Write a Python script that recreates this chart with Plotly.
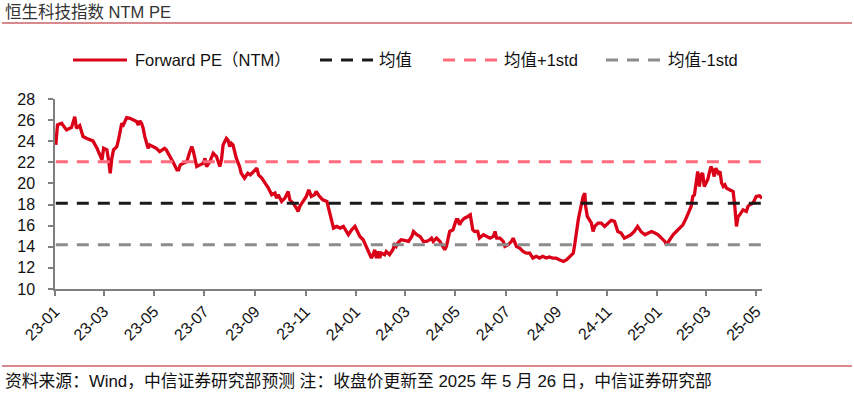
import plotly.graph_objects as go

# ---------------- data ----------------
dates = [
    "2023-01-02", "2023-01-04", "2023-01-09", "2023-01-15", "2023-01-19", "2023-01-21", "2023-01-25", "2023-01-27",
    "2023-01-31", "2023-02-02", "2023-02-04", "2023-02-08", "2023-02-12", "2023-02-16", "2023-02-21", "2023-02-25",
    "2023-02-27", "2023-03-01", "2023-03-05", "2023-03-07", "2023-03-09", "2023-03-11", "2023-03-13", "2023-03-15",
    "2023-03-17", "2023-03-19", "2023-03-21", "2023-03-23", "2023-03-25", "2023-03-27", "2023-03-29", "2023-04-02",
    "2023-04-06", "2023-04-10", "2023-04-12", "2023-04-14", "2023-04-16", "2023-04-18", "2023-04-20", "2023-04-22",
    "2023-04-24", "2023-04-26", "2023-04-30", "2023-05-04", "2023-05-08", "2023-05-12", "2023-05-14", "2023-05-16",
    "2023-05-18", "2023-05-20", "2023-05-25", "2023-05-29", "2023-05-31", "2023-06-02", "2023-06-06", "2023-06-10",
    "2023-06-13", "2023-06-16", "2023-06-18", "2023-06-20", "2023-06-22", "2023-06-26", "2023-06-30", "2023-07-02",
    "2023-07-04", "2023-07-08", "2023-07-12", "2023-07-14", "2023-07-16", "2023-07-18", "2023-07-20", "2023-07-22",
    "2023-07-24", "2023-07-28", "2023-07-30", "2023-08-01", "2023-08-03", "2023-08-05", "2023-08-07", "2023-08-09",
    "2023-08-13", "2023-08-15", "2023-08-19", "2023-08-23", "2023-08-26", "2023-08-30", "2023-09-03", "2023-09-05",
    "2023-09-09", "2023-09-13", "2023-09-17", "2023-09-21", "2023-09-25", "2023-09-27", "2023-09-29", "2023-10-01",
    "2023-10-03", "2023-10-07", "2023-10-11", "2023-10-13", "2023-10-17", "2023-10-21", "2023-10-23", "2023-10-25",
    "2023-10-29", "2023-11-02", "2023-11-05", "2023-11-08", "2023-11-12", "2023-11-14", "2023-11-18", "2023-11-22",
    "2023-11-27", "2023-12-01", "2023-12-03", "2023-12-05", "2023-12-09", "2023-12-13", "2023-12-17", "2023-12-19",
    "2023-12-23", "2023-12-27", "2023-12-31",
    "2024-01-02", "2024-01-06", "2024-01-10", "2024-01-14", "2024-01-18", "2024-01-20", "2024-01-22", "2024-01-24",
    "2024-01-26", "2024-01-28", "2024-01-30", "2024-02-01", "2024-02-05", "2024-02-07", "2024-02-11", "2024-02-15",
    "2024-02-17", "2024-02-19", "2024-02-21", "2024-02-25", "2024-02-29", "2024-03-05", "2024-03-09", "2024-03-11",
    "2024-03-15", "2024-03-19", "2024-03-23", "2024-03-27", "2024-03-31", "2024-04-02", "2024-04-04", "2024-04-08",
    "2024-04-12", "2024-04-16", "2024-04-18", "2024-04-20", "2024-04-24", "2024-04-28", "2024-05-02", "2024-05-04",
    "2024-05-06", "2024-05-08", "2024-05-12", "2024-05-16", "2024-05-19", "2024-05-22", "2024-05-24", "2024-05-28",
    "2024-05-30", "2024-06-04", "2024-06-08", "2024-06-12", "2024-06-16", "2024-06-18", "2024-06-20", "2024-06-24",
    "2024-06-28", "2024-06-30", "2024-07-04", "2024-07-06", "2024-07-08", "2024-07-10", "2024-07-12", "2024-07-14",
    "2024-07-18", "2024-07-22", "2024-07-26", "2024-07-30", "2024-08-03", "2024-08-07", "2024-08-11", "2024-08-15",
    "2024-08-19", "2024-08-23", "2024-08-27", "2024-08-31", "2024-09-04", "2024-09-09", "2024-09-13", "2024-09-17",
    "2024-09-21", "2024-09-23", "2024-09-25", "2024-09-27", "2024-09-29", "2024-10-01", "2024-10-03", "2024-10-05",
    "2024-10-06", "2024-10-08", "2024-10-11", "2024-10-13", "2024-10-15", "2024-10-17", "2024-10-21", "2024-10-25",
    "2024-10-29", "2024-11-02", "2024-11-06", "2024-11-10", "2024-11-14", "2024-11-18", "2024-11-22", "2024-11-26",
    "2024-11-30", "2024-12-04", "2024-12-08", "2024-12-12", "2024-12-17", "2024-12-21", "2024-12-25", "2024-12-29",
    "2025-01-02", "2025-01-06", "2025-01-10", "2025-01-12", "2025-01-16", "2025-01-20", "2025-01-24", "2025-01-28",
    "2025-02-01", "2025-02-05", "2025-02-09", "2025-02-11", "2025-02-13", "2025-02-15", "2025-02-17", "2025-02-19",
    "2025-02-21", "2025-02-23", "2025-02-25", "2025-02-27", "2025-03-01", "2025-03-03", "2025-03-05", "2025-03-07",
    "2025-03-09", "2025-03-11", "2025-03-13", "2025-03-16", "2025-03-18", "2025-03-20", "2025-03-22", "2025-03-24",
    "2025-03-26", "2025-03-30", "2025-04-03", "2025-04-05", "2025-04-07", "2025-04-09", "2025-04-11", "2025-04-15",
    "2025-04-19", "2025-04-21", "2025-04-23", "2025-04-27", "2025-05-01", "2025-05-05", "2025-05-08",
]

forward_pe = [
    23.65, 25.54, 25.70, 25.07, 25.23, 25.29, 26.33, 25.23,
    25.48, 24.91, 24.44, 24.28, 24.12, 24.03, 23.33, 22.70,
    22.23, 23.33, 23.18, 22.23, 20.97, 22.39, 23.18, 23.33,
    23.49, 24.12, 24.91, 25.70, 25.54, 26.01, 26.24, 26.17,
    26.01, 25.86, 25.54, 25.92, 25.70, 25.23, 24.44, 23.97,
    23.33, 23.65, 23.49, 23.33, 23.02, 23.18, 23.33, 23.18,
    22.86, 22.55, 21.91, 21.28, 21.28, 21.76, 21.91, 22.07,
    22.86, 23.49, 23.02, 22.07, 21.60, 21.76, 21.91, 22.39,
    21.60, 22.07, 22.86, 22.70, 22.55, 22.07, 21.60, 22.23,
    23.65, 24.28, 24.12, 23.49, 23.81, 23.65, 23.02, 22.39,
    21.60, 20.97, 20.50, 20.97, 20.81, 21.13, 21.45, 20.81,
    20.50, 20.03, 19.55, 18.92, 19.08, 18.61, 18.92, 18.61,
    18.29, 18.61, 19.24, 18.45, 18.13, 17.66, 17.34, 17.82,
    18.29, 18.77, 19.40, 18.77, 18.92, 19.24, 18.77, 18.45,
    18.29, 17.03, 16.08, 15.77, 15.93, 15.77, 15.93, 15.61,
    15.14, 15.61, 15.93,
    15.61, 14.98, 14.67, 14.03, 13.40, 12.93, 13.25, 13.72,
    12.93, 13.56, 12.93, 13.40, 13.25, 13.56, 13.25, 13.72,
    14.19, 14.03, 14.35, 14.67, 14.60, 14.51, 14.98, 15.45,
    15.14, 14.98, 14.51, 14.51, 14.67, 14.82, 14.51, 14.82,
    14.51, 13.88, 13.72, 14.03, 15.45, 15.61, 16.56, 16.56,
    16.08, 16.40, 16.71, 16.87, 17.03, 15.61, 15.45, 15.45,
    14.82, 15.14, 14.98, 14.82, 14.98, 15.45, 14.82, 14.82,
    14.51, 14.03, 14.19, 14.35, 14.51, 14.82, 14.35, 14.03,
    13.88, 13.56, 13.40, 13.40, 12.93, 13.09, 12.93, 13.09,
    12.93, 13.03, 12.93, 12.93, 12.77, 12.61, 12.77, 13.09,
    13.40, 14.35, 15.61, 16.56, 17.34, 18.13, 18.77, 19.08,
    17.82, 16.87, 16.56, 16.24, 15.45, 15.93, 16.24, 16.24,
    15.93, 16.24, 16.50, 16.40, 15.45, 15.30, 14.82, 14.98,
    15.14, 15.45, 15.93, 15.45, 15.14, 15.30, 15.45, 15.30,
    15.14, 14.82, 14.51, 14.19, 14.67, 15.14, 15.45, 15.77,
    16.08, 16.71, 17.50, 17.82, 18.77, 18.92, 20.03, 21.13,
    19.71, 20.81, 20.97, 19.71, 20.03, 20.34, 20.97, 21.60,
    21.29, 20.66, 21.45, 20.97, 21.13, 20.03, 19.71, 19.87,
    19.55, 19.40, 19.24, 17.82, 15.93, 16.87, 17.03, 17.50,
    17.34, 17.82, 17.98, 18.13, 18.77, 18.83, 18.60,
]

mean_pe = 18.12
upper_pe = 22.05   # 均值+1std
lower_pe = 14.20   # 均值-1std

y_tick_values = [10, 12, 14, 16, 18, 20, 22, 24, 26, 28]
x_tick_dates = ["2023-01-01", "2023-03-01", "2023-05-01", "2023-07-01", "2023-09-01", "2023-11-01",
                "2024-01-01", "2024-03-01", "2024-05-01", "2024-07-01", "2024-09-01", "2024-11-01",
                "2025-01-01", "2025-03-01", "2025-05-01"]
x_tick_labels = ["23-01", "23-03", "23-05", "23-07", "23-09", "23-11", "24-01", "24-03", "24-05",
                 "24-07", "24-09", "24-11", "25-01", "25-03", "25-05"]

series_names = ["Forward PE（NTM）", "均值", "均值+1std", "均值-1std"]
title_text = "恒生科技指数 NTM PE"
footer_text = "资料来源：Wind，中信证券研究部预测 注：收盘价更新至 2025 年 5 月 26 日，中信证券研究部"

# ---------------- style ----------------
W, H = 854, 399
ML, MR, MT, MB = 55, 92, 99, 110
PW, PH = W - ML - MR, H - MT - MB
FONT = "Liberation Sans, Arial, Noto Sans CJK SC, sans-serif"
RED = "#DA0018"
BLACK = "#1A1A1A"
PINK = "#FF6A7D"
GREY = "#8C8C8C"
RULE = "#B0141E"
DASH = "12px,9px"


def px(xp):
    return (xp - ML) / PW


def py(yp):
    return (H - MB - yp) / PH


fig = go.Figure()
fig.add_trace(go.Scatter(x=dates, y=forward_pe, mode="lines", name=series_names[0],
                         line=dict(color=RED, width=3.3), showlegend=False))
ends = [dates[0], dates[-1]]
for val, col, nm in [(mean_pe, BLACK, series_names[1]), (upper_pe, PINK, series_names[2]),
                     (lower_pe, GREY, series_names[3])]:
    fig.add_trace(go.Scatter(x=ends, y=[val, val], mode="lines", name=nm,
                             line=dict(color=col, width=3, dash=DASH), showlegend=False))

shapes = []
annotations = []
# custom legend row
legend_y = 60
legend_items = [
    (73, 127, 133, RED, None, series_names[0]),
    (320, 373, 377, BLACK, DASH, series_names[1]),
    (443, 497, 502, PINK, DASH, series_names[2]),
    (606, 660, 666, GREY, DASH, series_names[3]),
]
for x0, x1, xt, col, dash, nm in legend_items:
    ln = dict(color=col, width=3)
    if dash:
        ln["dash"] = DASH
    shapes.append(dict(type="line", xref="paper", yref="paper", x0=px(x0), x1=px(x1),
                       y0=py(legend_y), y1=py(legend_y), line=ln))
    annotations.append(dict(xref="paper", yref="paper", x=px(xt), y=py(legend_y), text=nm,
                            showarrow=False, xanchor="left", yanchor="middle",
                            font=dict(size=16.5, color="#111111", family=FONT)))

# header / footer rules
shapes.append(dict(type="line", xref="paper", yref="paper", x0=px(2), x1=px(852),
                   y0=py(23), y1=py(23), line=dict(color=RULE, width=1.2)))
shapes.append(dict(type="line", xref="paper", yref="paper", x0=px(2), x1=px(852),
                   y0=py(366), y1=py(366), line=dict(color=RULE, width=1.2)))
annotations.append(dict(xref="paper", yref="paper", x=px(3), y=py(12), text=title_text,
                        showarrow=False, xanchor="left", yanchor="middle",
                        font=dict(size=16.5, color="#333333", family=FONT)))
annotations.append(dict(xref="paper", yref="paper", x=px(3), y=py(381), text=footer_text,
                        showarrow=False, xanchor="left", yanchor="middle",
                        font=dict(size=16.8, color="#111111", family=FONT)))

fig.update_layout(
    width=W, height=H,
    margin=dict(l=ML, r=MR, t=MT, b=MB, pad=0),
    paper_bgcolor="white", plot_bgcolor="white",
    font=dict(family=FONT, size=15, color="#111111"),
    shapes=shapes, annotations=annotations,
    showlegend=False,
)
fig.update_xaxes(
    type="date", range=["2023-01-01", "2025-05-08"],
    tickvals=x_tick_dates, ticktext=x_tick_labels, tickangle=-45,
    ticks="outside", ticklen=5, tickwidth=1.5, tickcolor="#7F7F7F",
    showline=True, linecolor="#7F7F7F", linewidth=1.5,
    showgrid=False, zeroline=False,
    tickfont=dict(size=16, color="#111111", family=FONT),
)
fig.update_yaxes(
    range=[10, 28], tickvals=y_tick_values,
    ticks="outside", ticklen=5, tickwidth=1.5, tickcolor="#7F7F7F",
    showline=True, linecolor="#7F7F7F", linewidth=1.5,
    showgrid=False, zeroline=False,
    tickfont=dict(size=16, color="#111111", family=FONT),
    ticklabelstandoff=10,
)

fig.write_html("out.html", config={"displayModeBar": False},
               post_script="document.body.style.margin='0';")
